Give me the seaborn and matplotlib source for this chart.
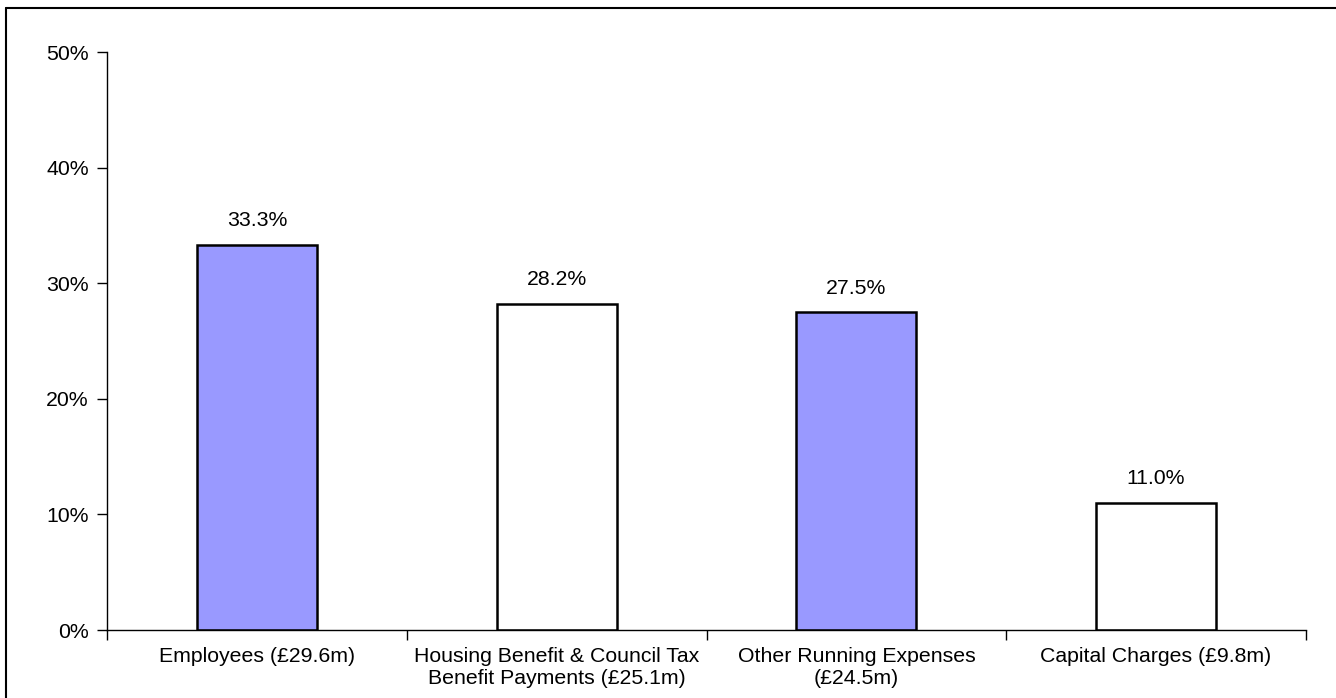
import matplotlib
matplotlib.use("Agg")
import matplotlib.pyplot as plt
import seaborn as sns
import pandas as pd
from matplotlib.lines import Line2D
from matplotlib.ticker import FixedLocator, PercentFormatter

categories = [
    "Employees (£29.6m)",
    "Housing Benefit & Council Tax\nBenefit Payments (£25.1m)",
    "Other Running Expenses\n(£24.5m)",
    "Capital Charges (£9.8m)",
]
shares = [33.3, 28.2, 27.5, 11.0]
fill_colours = ["#9999FF", "#FFFFFF", "#9999FF", "#FFFFFF"]

df = pd.DataFrame({"category": categories, "share": shares})

sns.set_style("white")
plt.rcParams["font.family"] = ["Liberation Sans", "DejaVu Sans"]
FS = 15.3

fig = plt.figure(figsize=(13.36, 6.98), dpi=100)
ax = fig.add_axes([107 / 1336, 68 / 698, 1199 / 1336, 578 / 698])

sns.barplot(data=df, x="category", y="share", hue="category",
            palette=fill_colours, saturation=1, legend=False, width=0.4,
            edgecolor="black", linewidth=1.8, ax=ax)

ax.set_ylim(0, 50)
ax.set_xlim(-0.5, len(categories) - 0.5)
ax.yaxis.set_major_locator(FixedLocator([0, 10, 20, 30, 40, 50]))
ax.yaxis.set_major_formatter(PercentFormatter(decimals=0))
ax.set_xlabel("")
ax.set_ylabel("")

# category separators on the x axis
ax.xaxis.set_minor_locator(FixedLocator([i - 0.5 for i in range(len(categories) + 1)]))
ax.tick_params(axis="x", which="major", length=0, pad=12.5, labelsize=FS,
               colors="black")
ax.tick_params(axis="x", which="minor", length=7, width=1, color="black",
               direction="out", bottom=True)
ax.tick_params(axis="y", length=7, width=1, color="black", direction="out",
               left=True, pad=6, labelsize=FS, labelcolor="black")
for lab in ax.get_xticklabels():
    lab.set_linespacing(1.18)

sns.despine(ax=ax)
for side in ["left", "bottom"]:
    ax.spines[side].set_color("black")
    ax.spines[side].set_linewidth(1)

for i, v in enumerate(shares):
    ax.annotate(f"{v:.1f}%", (i, v), xytext=(0, 10.5), textcoords="offset points",
                ha="center", va="bottom", fontsize=FS, color="black")

# outer frame (only top and left edges visible in the original)
fig.add_artist(Line2D([6 / 1336, 6 / 1336], [0, 1 - 8 / 698],
                      transform=fig.transFigure, color="black", linewidth=1.5))
fig.add_artist(Line2D([6 / 1336, 1], [1 - 8 / 698, 1 - 8 / 698],
                      transform=fig.transFigure, color="black", linewidth=1.5))

fig.savefig("out.png", dpi=100)
